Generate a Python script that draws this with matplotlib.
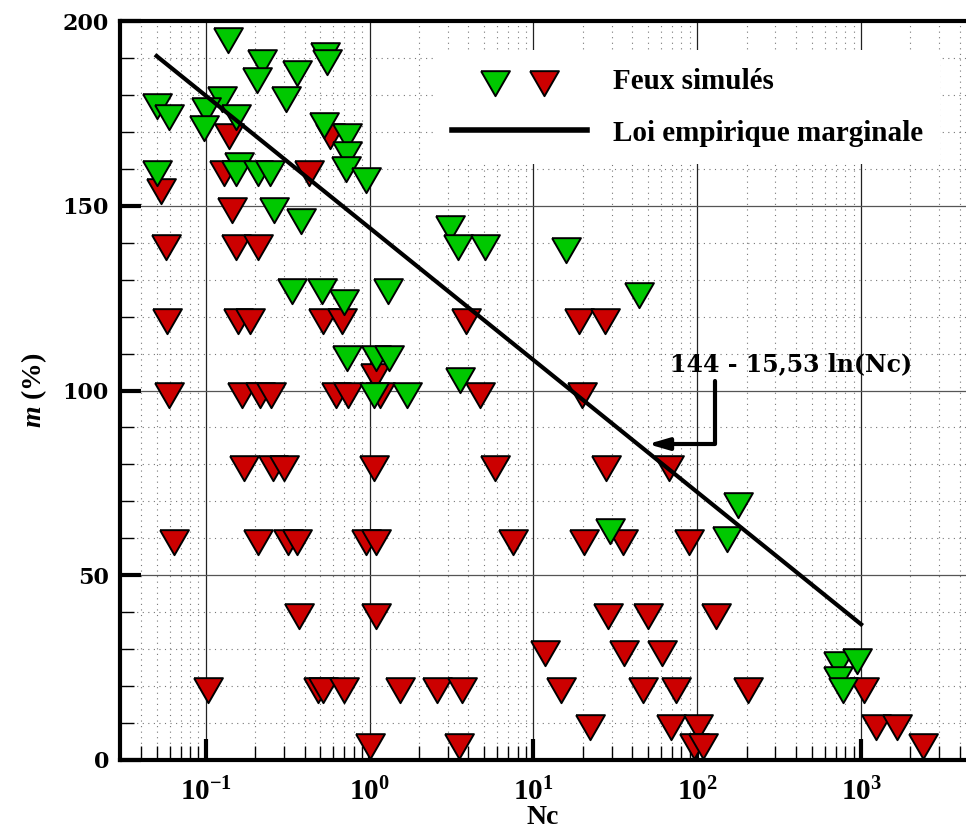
import numpy as np
import matplotlib
matplotlib.use("Agg")
import matplotlib.pyplot as plt
from matplotlib.lines import Line2D
from matplotlib.legend_handler import HandlerTuple
from matplotlib.ticker import LogLocator, FuncFormatter, MultipleLocator, NullFormatter

plt.rcParams['font.family'] = ['Liberation Serif', 'DejaVu Serif']
plt.rcParams['font.weight'] = 'bold'
plt.rcParams['mathtext.fontset'] = 'custom'
plt.rcParams['mathtext.rm'] = 'Liberation Serif:bold'
plt.rcParams['mathtext.bf'] = 'Liberation Serif:bold'
plt.rcParams['mathtext.it'] = 'Liberation Serif:italic:bold'

# simulated fires, red series
red_nc = [0.138, 0.573, 0.053, 0.129, 0.425, 0.144, 0.0573, 0.152, 0.207,
          0.058, 0.156, 0.187, 0.522, 0.682, 1.08, 0.0594, 0.167, 0.214, 0.249,
          0.624, 0.735, 1.15, 0.171, 0.257, 0.301, 1.07,
          0.0637, 0.207, 0.318, 0.362, 0.946, 1.09, 0.369, 1.10, 0.1027, 0.482,
          0.519, 0.699, 1.54, 1.0,
          3.86, 19.0, 27.5, 4.73, 19.9, 5.85, 27.8, 67.0,
          7.48, 20.2, 35.1, 89.6, 28.5, 50.0, 130.0, 11.8, 35.6, 60.6,
          2.56, 3.68, 14.8, 46.8, 74.3, 22.0, 68.9, 101.0, 3.52, 95.7, 109.0,
          203.0, 1045.0, 1230.0, 1667.0, 2382.0]
red_m = [170, 170, 155, 160, 160, 150, 140, 140, 140,
         120, 120, 120, 120, 120, 105, 100, 100, 100, 100,
         100, 100, 100, 80, 80, 80, 80,
         60, 60, 60, 60, 60, 60, 40, 40, 20, 20,
         20, 20, 20, 5,
         120, 120, 120, 100, 100, 80, 80, 80,
         60, 60, 60, 60, 40, 40, 40, 30, 30, 30,
         20, 20, 20, 20, 20, 10, 10, 10, 5, 5, 5,
         20, 20, 10, 10, 5]

# simulated fires, green series
green_nc = [0.137, 0.533, 0.547, 0.219, 0.36, 0.206, 0.307, 0.126, 0.050,
            0.1007, 0.0597, 0.153, 0.097, 0.524, 0.729, 0.724, 0.719, 0.943,
            0.160, 0.0506, 0.152, 0.207, 0.246, 0.262, 0.382,
            0.334, 0.509, 1.29, 0.699, 0.724, 1.097, 1.31, 1.065, 1.69,
            3.1, 3.44, 5.09, 15.8, 44.2, 3.57, 29.5, 151.0, 177.0,
            718.0, 940.0, 726.0, 779.0]
green_m = [196, 192, 190, 190, 187, 185, 180, 180, 178,
           177, 175, 175, 172, 173, 170, 165, 161, 158,
           162, 160, 160, 160, 160, 150, 147,
           128, 128, 128, 125, 110, 110, 110, 100, 100,
           145, 140, 140, 139, 127, 104, 63, 61, 70,
           27, 28, 23, 20]

# empirical law m = 144 - 15.53 ln(Nc)
law_a = 144.0
law_b = 15.53
law_range = [0.05, 1000.0]

tri = [(-1.0, 0.577), (1.0, 0.577), (0.0, -1.155), (-1.0, 0.577)]
green = '#00c800'
red = '#cc0000'

fig = plt.figure(figsize=(9.66, 8.33), dpi=100)
ax = fig.add_axes([120 / 966, 73 / 833, 846 / 966, 739 / 833])

ax.set_xscale('log')
ax.set_xlim(0.0299, 4370)
ax.set_ylim(0, 200)

ax.plot(red_nc, red_m, linestyle='none', marker=tri, markersize=24,
        markerfacecolor=red, markeredgecolor='black', markeredgewidth=1.4, zorder=3)
ax.plot(green_nc, green_m, linestyle='none', marker=tri, markersize=24,
        markerfacecolor=green, markeredgecolor='black', markeredgewidth=1.4, zorder=4)

xl = np.logspace(np.log10(law_range[0]), np.log10(law_range[1]), 200)
ax.plot(xl, law_a - law_b * np.log(xl), color='black', lw=3.0, zorder=5)

# grid
ax.xaxis.set_major_locator(LogLocator(base=10, numticks=20))
ax.xaxis.set_minor_locator(LogLocator(base=10, subs=np.arange(2, 10), numticks=50))
ax.xaxis.set_minor_formatter(NullFormatter())
ax.xaxis.set_major_formatter(FuncFormatter(lambda v, p: r'$\mathbf{10^{%d}}$' % round(np.log10(v))))
ax.yaxis.set_major_locator(MultipleLocator(50))
ax.yaxis.set_minor_locator(MultipleLocator(10))

ax.grid(which='major', axis='x', color='#222222', lw=0.9, zorder=1)
ax.grid(which='major', axis='y', color='#555555', lw=0.9, zorder=1)
ax.grid(which='minor', color='#777777', lw=0.8, linestyle=(0, (1, 4)), zorder=1)
ax.set_axisbelow(True)

ax.tick_params(which='major', direction='in', length=15, width=3, labelsize=21, pad=8)
ax.tick_params(which='minor', direction='in', length=10, width=1)
ax.tick_params(axis='x', which='major', pad=13)
for lab in ax.get_yticklabels():
    lab.set_family('DejaVu Serif')
    lab.set_fontsize(16)

for s in ['left', 'bottom', 'top']:
    ax.spines[s].set_linewidth(3)
ax.spines['right'].set_visible(False)

ax.set_xlabel('Nc', fontsize=20, fontweight='bold', labelpad=-1)
ax.set_ylabel(r'$m$ (%)', fontsize=20, fontweight='bold', labelpad=10)

# legend
h_pair = (Line2D([], [], linestyle='none', marker=tri, markersize=24, markerfacecolor=green,
                 markeredgecolor='black', markeredgewidth=1.4),
          Line2D([], [], linestyle='none', marker=tri, markersize=24, markerfacecolor=red,
                 markeredgecolor='black', markeredgewidth=1.4))
h_line = Line2D([], [], color='black', lw=4)
leg = ax.legend([h_pair, h_line], ['Feux simulés', 'Loi empirique marginale'],
                handler_map={tuple: HandlerTuple(ndivide=None, pad=-1.2)},
                loc='upper left', bbox_to_anchor=(0.355, 0.98), fontsize=21,
                handlelength=4.6, handletextpad=0.9, labelspacing=0.85,
                frameon=True, facecolor='white', edgecolor='none', framealpha=1,
                borderpad=0.6, fancybox=False)
leg.set_zorder(6)

# annotation
ax.text(68, 107, '144 - 15,53 ln(Nc)', family='DejaVu Serif', fontsize=17,
        fontweight='bold', ha='left', va='center', zorder=6)
ax.annotate('', xy=(50, 85.5), xytext=(128, 102.5),
            arrowprops=dict(arrowstyle='-|>,head_length=1.2,head_width=0.35', color='black', lw=3,
                            connectionstyle='angle,angleA=90,angleB=0,rad=0',
                            shrinkA=0, shrinkB=0), zorder=6)

fig.savefig('out.png', dpi=100)
